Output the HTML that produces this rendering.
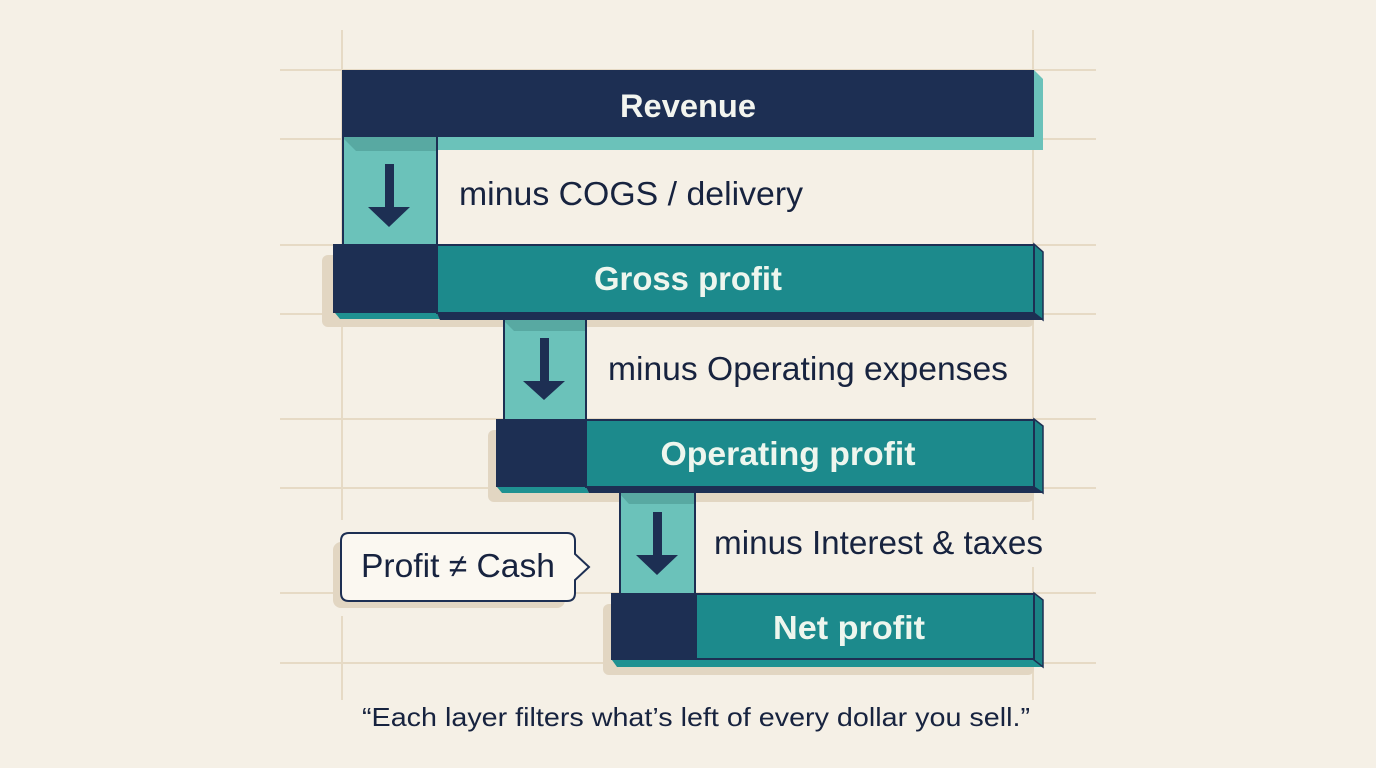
<!DOCTYPE html>
<html><head><meta charset="utf-8"><style>
html,body{margin:0;padding:0;background:#f5f0e6;}
svg{display:block;}
text{font-family:"Liberation Sans",sans-serif;}
</style></head><body>
<svg width="1376" height="768" viewBox="0 0 1376 768" xmlns="http://www.w3.org/2000/svg">
<rect width="1376" height="768" fill="#f5f0e6"/>
<!-- grid -->
<g stroke="#e6dac5" stroke-width="2">
<line x1="280" y1="70" x2="1096" y2="70"/>
<line x1="280" y1="139" x2="1096" y2="139"/>
<line x1="280" y1="245" x2="1096" y2="245"/>
<line x1="280" y1="314" x2="1096" y2="314"/>
<line x1="280" y1="419" x2="1096" y2="419"/>
<line x1="280" y1="488" x2="1096" y2="488"/>
<line x1="280" y1="593" x2="1096" y2="593"/>
<line x1="280" y1="663" x2="1096" y2="663"/>
<line x1="342" y1="30" x2="342" y2="520"/>
<line x1="342" y1="616" x2="342" y2="700"/>
<line x1="1033" y1="30" x2="1033" y2="520"/>
<line x1="1033" y1="567" x2="1033" y2="700"/>
</g>

<!-- Revenue -->
<polygon points="1034,70 1043,79 1043,150 437,150 437,137 1034,137" fill="#6bc2ba"/>
<rect x="342" y="70" width="692" height="67" fill="#1d2f53"/>
<text x="688" y="117" text-anchor="middle" font-size="32" font-weight="bold" fill="#f3f5ef" textLength="136" lengthAdjust="spacingAndGlyphs">Revenue</text>

<!-- arrow box 1 -->
<rect x="342" y="137" width="95" height="107" fill="#6bc2ba"/>
<polygon points="342,137 437,137 437,151 356,151" fill="#58a9a2"/>
<line x1="343" y1="137" x2="343" y2="244" stroke="#1d2f53" stroke-width="2"/>
<line x1="437" y1="137" x2="437" y2="244" stroke="#1d2f53" stroke-width="2"/>
<rect x="385" y="164" width="9" height="46" fill="#1d2f53"/>
<polygon points="368,207 410,207 389,227" fill="#1d2f53"/>
<text x="459" y="205" font-size="33" fill="#17233f" textLength="344" lengthAdjust="spacingAndGlyphs">minus COGS / delivery</text>

<!-- Gross profit -->
<rect x="322" y="255" width="712" height="72" rx="6" fill="#e2d6c2"/>
<polygon points="335,313 437,313 440,319 340,319" fill="#1f9191"/>
<polygon points="437,313 1034,313 1043,320 440,320" fill="#1d2f53"/>
<polygon points="1034,244 1043,252 1043,320 1034,313" fill="#1a8385" stroke="#1d2f53" stroke-width="1.5"/>
<rect x="333" y="244" width="104" height="69" fill="#1d2f53"/>
<rect x="437" y="245" width="597" height="68" fill="#1c8a8c" stroke="#1d2f53" stroke-width="2"/>
<text x="688" y="290" text-anchor="middle" font-size="33" font-weight="bold" fill="#eef6ee" textLength="188" lengthAdjust="spacingAndGlyphs">Gross profit</text>

<!-- arrow box 2 -->
<rect x="503" y="320" width="83" height="99" fill="#6bc2ba"/>
<polygon points="503,320 586,320 586,331 514,331" fill="#58a9a2"/>
<line x1="504" y1="318" x2="504" y2="419" stroke="#1d2f53" stroke-width="2"/>
<line x1="586" y1="318" x2="586" y2="419" stroke="#1d2f53" stroke-width="2"/>
<rect x="540" y="338" width="9" height="46" fill="#1d2f53"/>
<polygon points="523,381 565,381 544,400" fill="#1d2f53"/>
<text x="608" y="380" font-size="33" fill="#17233f" textLength="400" lengthAdjust="spacingAndGlyphs">minus Operating expenses</text>

<!-- Operating profit -->
<rect x="488" y="430" width="546" height="72" rx="6" fill="#e2d6c2"/>
<polygon points="497,487 586,487 589,493 502,493" fill="#1f9191"/>
<polygon points="586,487 1034,487 1043,493 589,493" fill="#1d2f53"/>
<polygon points="1034,419 1043,426 1043,493 1034,487" fill="#1a8385" stroke="#1d2f53" stroke-width="1.5"/>
<rect x="496" y="419" width="90" height="68" fill="#1d2f53"/>
<rect x="586" y="420" width="448" height="67" fill="#1c8a8c" stroke="#1d2f53" stroke-width="2"/>
<text x="788" y="465" text-anchor="middle" font-size="33" font-weight="bold" fill="#eef6ee" textLength="255" lengthAdjust="spacingAndGlyphs">Operating profit</text>

<!-- arrow box 3 -->
<rect x="619" y="493" width="76" height="100" fill="#6bc2ba"/>
<polygon points="619,493 695,493 695,504 629,504" fill="#58a9a2"/>
<line x1="620" y1="492" x2="620" y2="593" stroke="#1d2f53" stroke-width="2"/>
<line x1="695" y1="492" x2="695" y2="593" stroke="#1d2f53" stroke-width="2"/>
<rect x="653" y="512" width="9" height="46" fill="#1d2f53"/>
<polygon points="636,555 678,555 657,575" fill="#1d2f53"/>
<rect x="1026" y="520" width="20" height="46" fill="#f5f0e6"/>
<text x="714" y="554" font-size="33" fill="#17233f" textLength="329" lengthAdjust="spacingAndGlyphs">minus Interest &amp; taxes</text>

<!-- Net profit -->
<rect x="603" y="604" width="431" height="71" rx="6" fill="#e2d6c2"/>
<polygon points="612,660 1034,660 1043,667 617,667" fill="#1f9191"/>
<polygon points="1034,593 1043,600 1043,667 1034,660" fill="#1a8385" stroke="#1d2f53" stroke-width="1.5"/>
<rect x="611" y="593" width="85" height="67" fill="#1d2f53"/>
<rect x="696" y="594" width="338" height="65" fill="#1c8a8c" stroke="#1d2f53" stroke-width="2"/>
<text x="849" y="639" text-anchor="middle" font-size="33" font-weight="bold" fill="#eef6ee" textLength="152" lengthAdjust="spacingAndGlyphs">Net profit</text>

<!-- callout -->
<rect x="333" y="542" width="232" height="66" rx="8" fill="#e2d6c2"/>
<path d="M349,533 H567 Q575,533 575,541 V554 L589,567 L575,580 V593 Q575,601 567,601 H349 Q341,601 341,593 V541 Q341,533 349,533 Z" fill="#fbf8f1" stroke="#1d2f53" stroke-width="2"/>
<text x="361" y="577" font-size="33" fill="#17233f" textLength="194" lengthAdjust="spacingAndGlyphs">Profit ≠ Cash</text>

<!-- caption -->
<text x="362" y="726" font-size="26" fill="#17233f" textLength="668" lengthAdjust="spacingAndGlyphs">“Each layer filters what’s left of every dollar you sell.”</text>
</svg>
</body></html>
